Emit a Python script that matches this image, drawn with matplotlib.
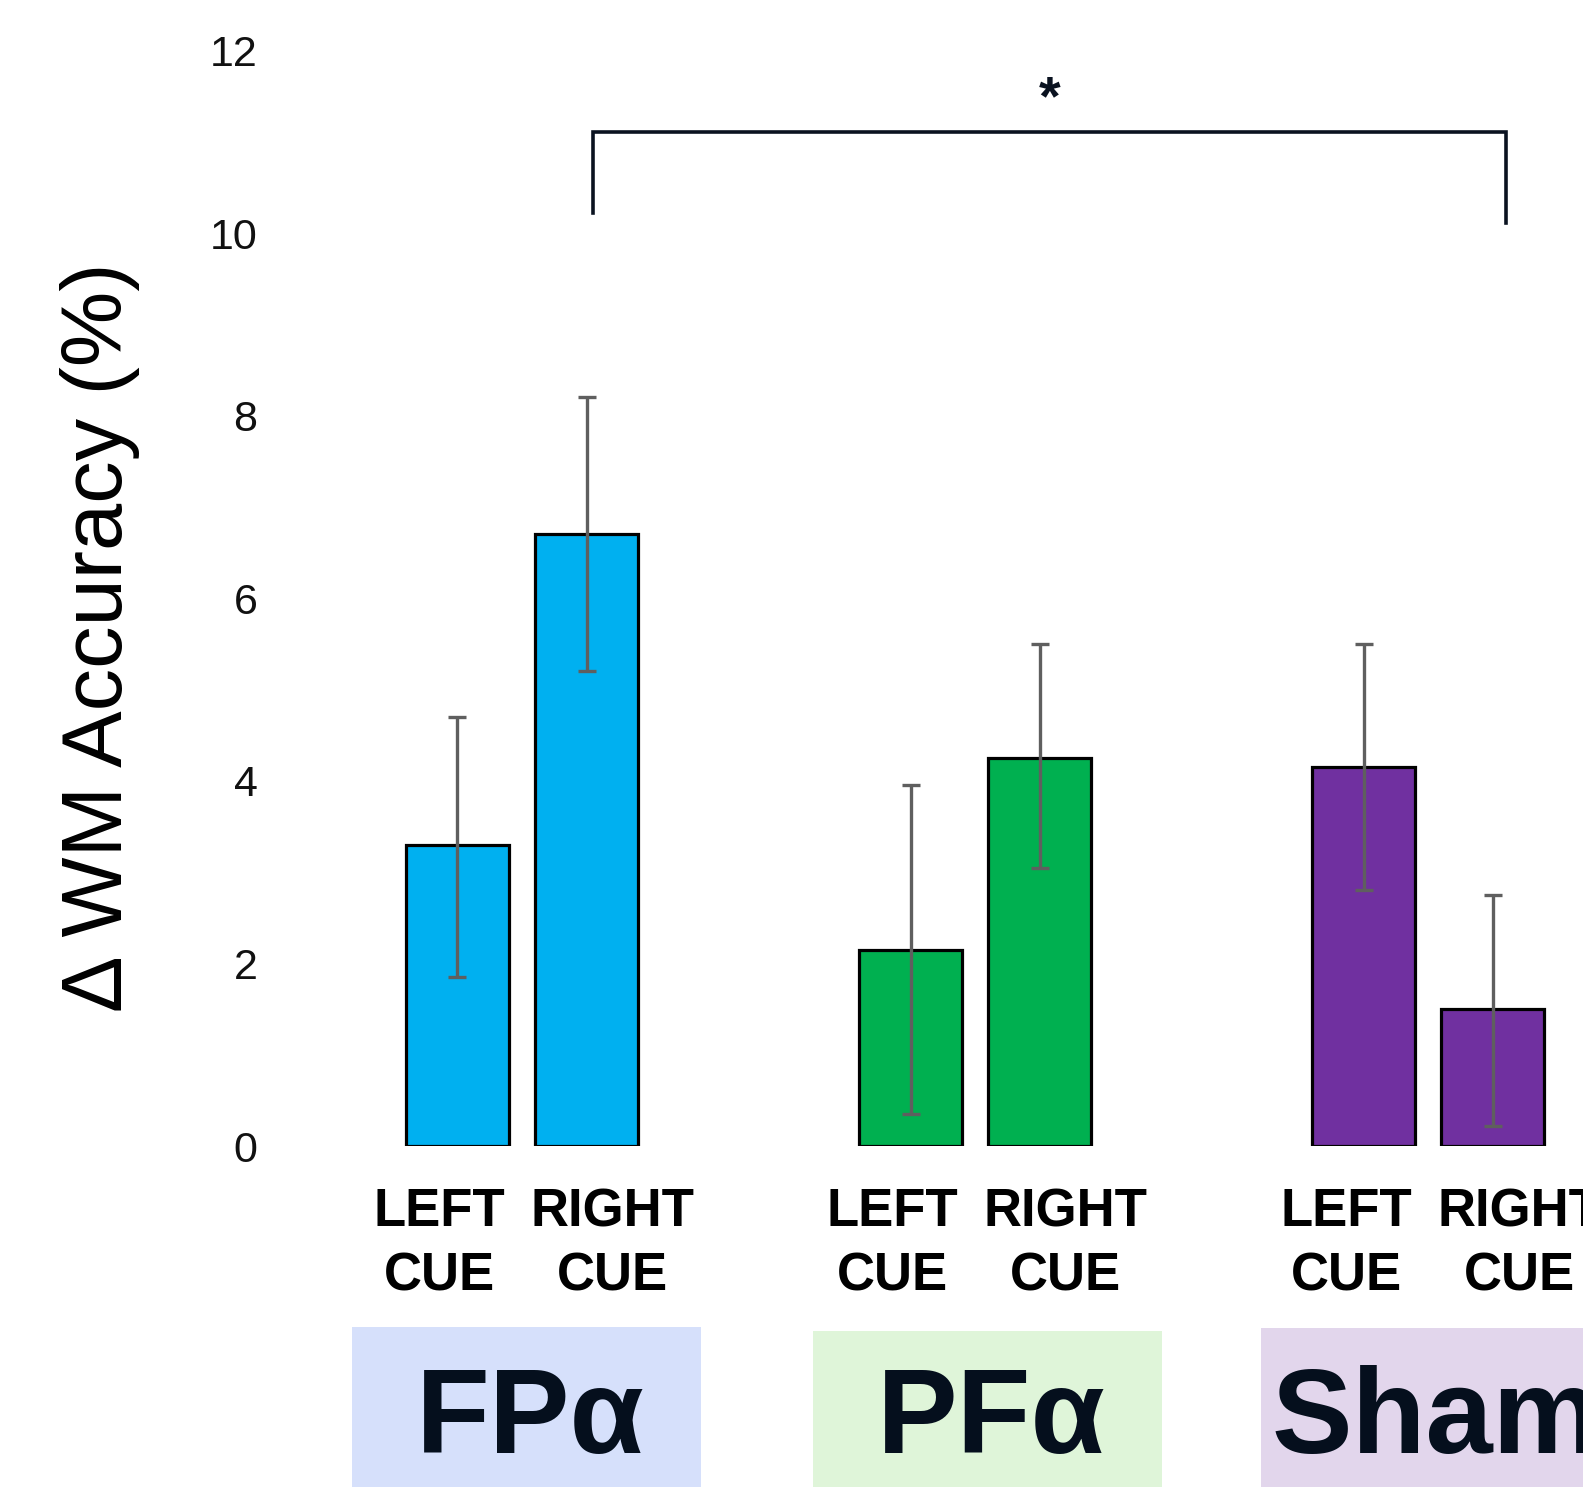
import numpy as np
import matplotlib
matplotlib.use("Agg")
import matplotlib.pyplot as plt
from matplotlib.patches import Rectangle

# data
groups = ["FPα", "PFα", "Sham"]
cues = ["LEFT\nCUE", "RIGHT\nCUE"]
means = [3.3, 6.7, 2.15, 4.25, 4.15, 1.5]
err_low = [1.85, 5.2, 0.35, 3.05, 2.8, 0.22]
err_high = [4.7, 8.2, 3.95, 5.5, 5.5, 2.75]
bar_colors = ["#00b0f0", "#00b0f0", "#00b050", "#00b050", "#7030a0", "#7030a0"]
box_colors = ["#d6e0fb", "#dff5d9", "#e2d6ec"]
yticks = [0, 2, 4, 6, 8, 10, 12]

W, H = 1583, 1487
fig = plt.figure(figsize=(W / 100, H / 100), dpi=100)

# axes: y=0 at px 1146, y=12 at px 50.5, left edge at px 270
y0_px, y12_px, left_px = 1146, 50.5, 270
ax = fig.add_axes([left_px / W, 1 - y0_px / H, 1 - left_px / W, (y0_px - y12_px) / H])

unit = 103.0          # px per bar width
g0_px = 522.0         # px of first group centre
spacing = 4.4
offset = 0.627
xpos = []
for g in range(len(groups)):
    for k in (-1, 1):
        xpos.append(g * spacing + k * offset)
xpos = np.array(xpos)
means = np.array(means)
yerr = np.array([means - np.array(err_low), np.array(err_high) - means])

ax.bar(xpos, means, width=1.0, color=bar_colors, edgecolor="black", linewidth=2.3, zorder=2)
ax.errorbar(xpos, means, yerr=yerr, fmt="none", ecolor="#5f5f5f", elinewidth=2.4,
            capsize=6.8, capthick=2.4, zorder=3)

ax.set_xlim((left_px - g0_px) / unit, (W - g0_px) / unit)
ax.set_ylim(0, 12)
ax.set_yticks(yticks)
ax.set_yticklabels([str(t) for t in yticks], fontsize=31, family="Liberation Sans", color="#111111")
ax.tick_params(axis="y", length=0, pad=9)
ax.set_xticks([])
for s in ax.spines.values():
    s.set_visible(False)

# cue labels under bars
for g in range(len(groups)):
    c = g * spacing + 0.04
    for k, lab in zip((-1, 1), cues):
        ax.text(c + k * 0.84, -0.45, lab, ha="center", va="top", fontsize=38,
                fontweight="bold", family="Liberation Sans", linespacing=1.36,
                clip_on=False)

# significance bracket
bx1, bx2 = xpos[1] + 0.06, xpos[5] + 0.13
ax.plot([bx1, bx1, bx2, bx2], [10.22, 11.11, 11.11, 10.11], color="#0a1220",
        lw=2.6, clip_on=False, solid_joinstyle="miter")
ax.text((bx1 + bx2) / 2, 11.17, "*", ha="center", va="bottom", fontsize=40,
        fontweight="bold", family="Liberation Sans", color="#0a1220")

# y label
fig.text(100 / W, 1 - 637 / H, "Δ WM Accuracy (%)", rotation=90, ha="center", va="center",
         fontsize=61, family=["Liberation Sans Narrow", "Liberation Sans"])

# group label boxes
box_left = [352, 813, 1261]
box_top = [1327, 1331, 1328]
box_w = 349
for lab, col, bl, bt in zip(groups, box_colors, box_left, box_top):
    fig.patches.append(Rectangle((bl / W, 0), box_w / W, (H - bt) / H,
                                 transform=fig.transFigure, facecolor=col,
                                 edgecolor="none", zorder=0))
for g, lab in enumerate(groups):
    cx = box_left[g] + box_w / 2
    if lab == "Sham":
        fig.text(1272 / W, 1 - 1453 / H, lab, ha="left", va="baseline", fontsize=87,
                 fontweight="bold", family="Liberation Sans", color="#050f1d")
    else:
        fig.text((cx + 4) / W, 1 - 1453 / H, lab, ha="center", va="baseline", fontsize=87,
                 fontweight="bold", family="Liberation Sans", color="#050f1d")

fig.savefig("out.png", dpi=100)
